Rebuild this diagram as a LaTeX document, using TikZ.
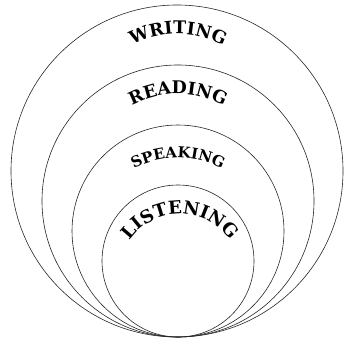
\documentclass[tikz,border=0pt]{standalone}
\usepackage{fontspec}
\setmainfont{DejaVu Serif}
\usetikzlibrary{decorations.text}
\tikzset{
  ring/.style={draw=black!85, line width=0.6pt},
  arctext/.style={decorate, decoration={text along path, text align=center, text={#1}}}
}
\begin{document}
\begin{tikzpicture}[x=1pt,y=1pt]
\useasboundingbox (0,0) rectangle (344,343);
% nested circles tangent at the bottom
\draw[ring] (177,172) circle[radius=166];
\draw[ring] (178,142) circle[radius=136];
\draw[ring] (178,112) circle[radius=106];
\draw[ring] (178,82) circle[radius=76];
% curved labels
\path[arctext={|\bfseries\fontsize{17.5}{17.5}\selectfont|WRITING}]
  ([shift={(165:96)}]178,213) arc[start angle=165,end angle=15,radius=96];
\path[arctext={|\bfseries\fontsize{17.5}{17.5}\selectfont|READING}]
  ([shift={(165:96)}]178,153) arc[start angle=165,end angle=15,radius=96];
\path[arctext={|\bfseries\fontsize{15}{15}\selectfont|SPEAKING}]
  ([shift={(165:94)}]178,91) arc[start angle=165,end angle=15,radius=94];
\path[arctext={|\bfseries\fontsize{18}{18}\selectfont|LISTENING}]
  ([shift={(178:61)}]180,68) arc[start angle=178,end angle=2,radius=61];
\end{tikzpicture}
\end{document}
